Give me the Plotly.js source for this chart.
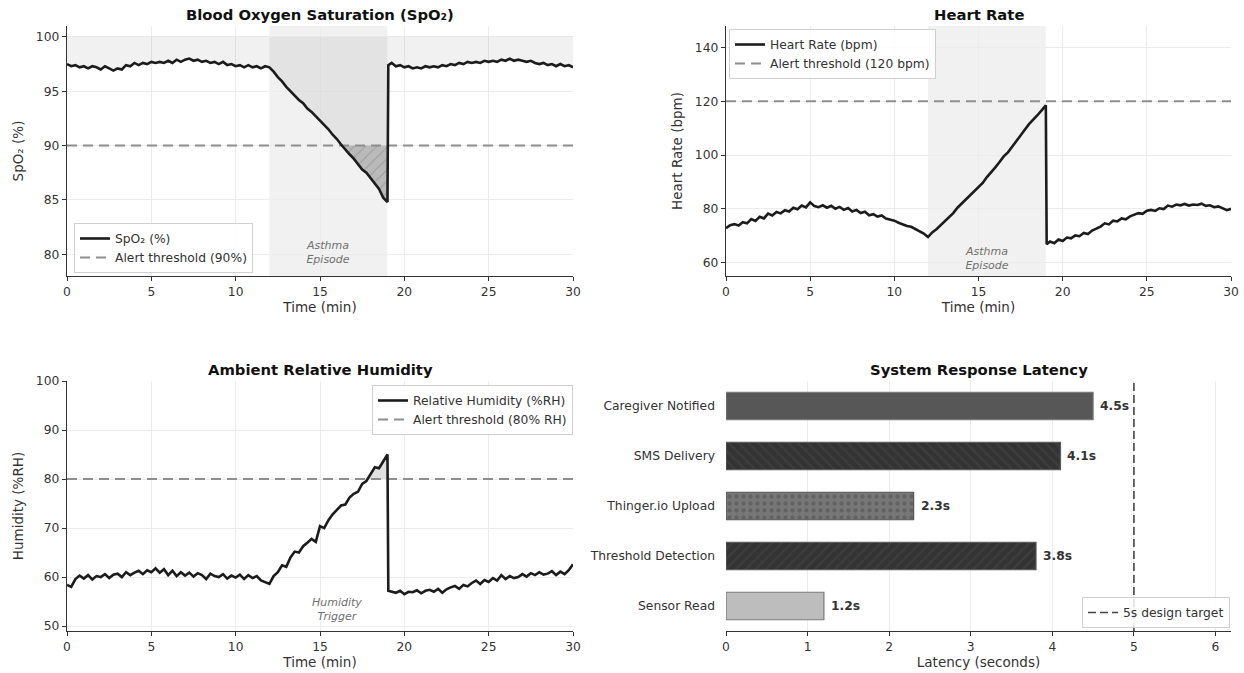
<!DOCTYPE html>
<html>
<head>
<meta charset="utf-8">
<script src="https://cdn.plot.ly/plotly-3.0.1.min.js"></script>
<style>
  html, body { margin: 0; padding: 0; background: #ffffff; }
  #chart { width: 1244px; height: 673px; }
</style>
</head>
<body>
<div id="chart"></div>
<script>
// ---------------- DATA ----------------
const TIME = [
  0,0.25,0.5,0.75,1,1.25,1.5,1.75,2,2.25,2.5,2.75,
  3,3.25,3.5,3.75,4,4.25,4.5,4.75,5,5.25,5.5,5.75,
  6,6.25,6.5,6.75,7,7.25,7.5,7.75,8,8.25,8.5,8.75,
  9,9.25,9.5,9.75,10,10.25,10.5,10.75,11,11.25,11.5,11.75,
  12,12.25,12.5,12.75,13,13.25,13.5,13.75,14,14.25,14.5,14.75,
  15,15.25,15.5,15.75,16,16.25,16.5,16.75,17,17.25,17.5,17.75,
  18,18.25,18.5,18.75,19,
  19.05,
  19.25,19.5,19.75,20,20.25,20.5,20.75,21,21.25,21.5,21.75,
  22,22.25,22.5,22.75,23,23.25,23.5,23.75,24,24.25,24.5,24.75,
  25,25.25,25.5,25.75,26,26.25,26.5,26.75,27,27.25,27.5,27.75,
  28,28.25,28.5,28.75,29,29.25,29.5,29.75,30
];

const SPO2 = [
  97.5,97.3,97.4,97.2,97.3,97.1,97.3,97.2,97.0,97.3,97.1,96.9,
  97.1,97.0,97.4,97.3,97.6,97.4,97.6,97.5,97.7,97.6,97.7,97.6,
  97.8,97.6,97.9,97.7,97.9,98.0,97.8,97.9,97.7,97.8,97.6,97.7,
  97.5,97.7,97.4,97.5,97.3,97.4,97.2,97.4,97.2,97.3,97.1,97.3,
  97.2,96.8,96.3,95.9,95.4,95.0,94.6,94.2,93.9,93.4,93.1,92.7,
  92.3,91.9,91.5,91.0,90.6,90.1,89.6,89.2,88.8,88.3,87.8,87.5,
  87.0,86.5,86.0,85.2,84.8,
  97.4,
  97.6,97.3,97.4,97.2,97.3,97.1,97.2,97.1,97.3,97.2,97.3,
  97.2,97.4,97.3,97.5,97.4,97.6,97.5,97.7,97.6,97.7,97.6,97.8,
  97.7,97.8,97.7,97.9,97.8,98.0,97.8,97.9,97.8,97.7,97.8,97.6,
  97.5,97.6,97.4,97.5,97.3,97.5,97.3,97.4,97.2
];

const HEART_RATE = [
  72.8,73.9,74.3,73.8,75.0,74.6,76.2,75.5,77.0,76.4,78.2,77.5,
  78.8,78.3,79.5,79.0,80.4,79.8,81.2,80.5,82.4,81.0,80.6,81.3,
  80.4,81.1,80.0,80.7,79.6,80.3,79.0,79.6,78.4,78.9,77.6,78.0,
  77.1,77.5,76.4,76.0,75.6,74.8,74.2,73.6,73.3,72.5,71.8,70.8,
  69.5,71.2,72.4,73.9,75.3,76.9,78.4,80.4,82.0,83.6,85.0,86.4,
  88.0,89.6,91.8,93.5,95.4,97.4,99.5,101.0,103.0,105.2,107.2,109.4,
  111.5,113.0,114.8,116.6,118.5,
  66.8,
  67.8,67.2,68.6,68.0,69.3,69.0,70.1,69.8,71.0,70.6,71.9,
  72.6,73.4,74.6,74.2,75.6,75.3,76.4,76.1,77.2,77.8,78.4,78.1,
  79.3,79.6,79.2,80.2,79.9,81.2,80.8,81.6,81.3,81.8,81.2,81.6,
  81.4,81.9,81.1,81.3,80.6,80.9,80.1,79.5,80.0
];

const HUMIDITY = [
  58.4,58.0,59.6,60.3,59.7,60.4,59.5,60.2,60.0,60.6,59.8,60.5,
  60.7,60.0,61.0,60.4,60.9,61.3,60.6,61.4,61.0,61.8,60.9,61.6,
  60.4,61.3,60.2,61.0,60.3,60.9,60.1,60.8,60.4,59.6,60.7,60.2,
  60.0,60.6,59.7,60.3,59.9,60.5,59.6,60.4,59.8,60.2,59.3,59.0,
  58.6,60.2,61.0,62.4,62.1,64.0,65.2,65.0,66.3,67.0,67.8,67.2,
  70.4,70.0,71.6,72.8,73.6,74.6,74.8,76.2,77.0,77.4,79.0,79.6,
  81.0,82.4,82.2,83.6,85.0,
  57.2,
  57.0,56.8,57.2,56.5,57.0,56.9,57.3,56.7,57.2,57.4,57.0,
  57.6,56.8,57.5,57.9,58.2,57.6,58.4,58.1,58.8,59.3,58.6,59.4,
  59.0,59.8,59.3,60.4,59.6,60.2,59.8,60.0,60.6,60.1,60.8,60.4,
  61.0,60.5,60.7,61.2,60.4,61.1,60.6,61.4,62.6
];

const TIME_SPAN = [0, 30];
const EPISODE = [12, 19];
const SPO2_CEILING = 100;
const SPO2_THRESHOLD = 90;
const HR_THRESHOLD = 120;
const RH_THRESHOLD = 80;

const STAGES = ['Sensor Read', 'Threshold Detection', 'Thinger.io Upload', 'SMS Delivery', 'Caregiver Notified'];
const LATENCY = [1.2, 3.8, 2.3, 4.1, 4.5];
const DESIGN_TARGET = 5;

// ---------------- STYLE ----------------
const FONT = 'DejaVu Sans, Arial, sans-serif';
const LINE = '#1c1c1c';
const THRESH = '#8e8e8e';
const GRID = '#ececec';
const AXC = '#333333';
const BAR_STYLE = [
  {color: '#bdbdbd', edge: '#7a7a7a', shape: '', fg: '#bdbdbd'},
  {color: '#333333', edge: '#5a5a5a', shape: '/', fg: '#474747'},
  {color: '#777777', edge: '#555555', shape: '.', fg: '#4d4d4d'},
  {color: '#333333', edge: '#5a5a5a', shape: '\\', fg: '#474747'},
  {color: '#575757', edge: '#7a7a7a', shape: '', fg: '#575757'}
];

const span = (v) => [v, v];
const traces = [];

// Panel 1: SpO2
traces.push({x: TIME_SPAN, y: span(SPO2_CEILING), xaxis: 'x', yaxis: 'y', mode: 'lines',
  line: {width: 0}, showlegend: false, hoverinfo: 'skip'});
traces.push({x: TIME, y: SPO2, xaxis: 'x', yaxis: 'y', mode: 'lines', fill: 'tonexty',
  fillcolor: 'rgba(0,0,0,0.055)', line: {width: 0}, showlegend: false, hoverinfo: 'skip'});
traces.push({x: TIME_SPAN, y: span(SPO2_THRESHOLD), xaxis: 'x', yaxis: 'y', mode: 'lines',
  line: {width: 0}, showlegend: false, hoverinfo: 'skip'});
traces.push({x: TIME, y: SPO2.map(v => Math.min(v, SPO2_THRESHOLD)), xaxis: 'x', yaxis: 'y', mode: 'lines',
  fill: 'tonexty', fillcolor: '#bababa',
  fillpattern: {shape: '/', bgcolor: '#bababa', fgcolor: '#a2a2a2', size: 8, solidity: 0.15},
  line: {width: 0}, showlegend: false, hoverinfo: 'skip'});
traces.push({x: TIME_SPAN, y: span(SPO2_THRESHOLD), xaxis: 'x', yaxis: 'y', mode: 'lines',
  name: 'Alert threshold (90%)', legend: 'legend',
  line: {color: THRESH, width: 2, dash: '10px,6px'}});
traces.push({x: TIME, y: SPO2, xaxis: 'x', yaxis: 'y', mode: 'lines',
  name: 'SpO₂ (%)', legend: 'legend',
  line: {color: LINE, width: 2.6}});

// Panel 2: Heart rate
traces.push({x: TIME_SPAN, y: span(HR_THRESHOLD), xaxis: 'x2', yaxis: 'y2', mode: 'lines',
  name: 'Alert threshold (120 bpm)', legend: 'legend2',
  line: {color: THRESH, width: 2, dash: '10px,6px'}});
traces.push({x: TIME, y: HEART_RATE, xaxis: 'x2', yaxis: 'y2', mode: 'lines',
  name: 'Heart Rate (bpm)', legend: 'legend2',
  line: {color: LINE, width: 2.6}});

// Panel 3: Humidity
traces.push({x: TIME_SPAN, y: span(RH_THRESHOLD), xaxis: 'x3', yaxis: 'y3', mode: 'lines',
  line: {width: 0}, showlegend: false, hoverinfo: 'skip'});
traces.push({x: TIME, y: HUMIDITY.map(v => Math.max(v, RH_THRESHOLD)), xaxis: 'x3', yaxis: 'y3', mode: 'lines',
  fill: 'tonexty', fillcolor: 'rgba(0,0,0,0.12)', line: {width: 0}, showlegend: false, hoverinfo: 'skip'});
traces.push({x: TIME_SPAN, y: span(RH_THRESHOLD), xaxis: 'x3', yaxis: 'y3', mode: 'lines',
  name: 'Alert threshold (80% RH)', legend: 'legend3',
  line: {color: THRESH, width: 2, dash: '10px,6px'}});
traces.push({x: TIME, y: HUMIDITY, xaxis: 'x3', yaxis: 'y3', mode: 'lines',
  name: 'Relative Humidity (%RH)', legend: 'legend3',
  line: {color: LINE, width: 2.6}});

// Panel 4: Latency bars (one trace per stage so each keeps its own fill style)
STAGES.forEach((s, i) => {
  const st = BAR_STYLE[i];
  const marker = {color: st.color, line: {color: st.edge, width: 1.2}};
  if (st.shape) marker.pattern = {shape: st.shape, fgcolor: st.fg, fillmode: 'overlay', size: 7, solidity: 0.3};
  traces.push({type: 'bar', orientation: 'h', x: [LATENCY[i]], y: [s], xaxis: 'x4', yaxis: 'y4',
    width: 0.55, showlegend: false, hoverinfo: 'skip', marker: marker});
});
traces.push({x: span(DESIGN_TARGET), y: [-0.5, 4.5], xaxis: 'x4', yaxis: 'y5', mode: 'lines',
  name: '5s design target', legend: 'legend4',
  line: {color: '#444444', width: 1.6, dash: '8px,4px'}});

// ---------------- LAYOUT ----------------
const W = 1244, H = 673;
const dx = (a, b) => [a / W, b / W];
const dy = (top, bottom) => [1 - bottom / H, 1 - top / H];

const TICK_SIZE = 12.3;
const baseAxis = {
  showline: true, linecolor: AXC, linewidth: 1.2, ticks: 'outside', ticklen: 4, tickcolor: AXC,
  tickfont: {family: FONT, size: TICK_SIZE, color: AXC}, showgrid: true, gridcolor: GRID, gridwidth: 1,
  zeroline: false, mirror: false
};
const titleFont = {family: FONT, size: 13.5, color: AXC};

const xTime = (dom, anchor) => Object.assign({}, baseAxis, {
  domain: dom, anchor: anchor, range: TIME_SPAN, dtick: 5, tick0: 0,
  title: {text: 'Time (min)', font: titleFont, standoff: 3}
});

const legendBase = {
  bgcolor: 'rgba(255,255,255,0.85)', bordercolor: '#d0d0d0', borderwidth: 1,
  font: {family: FONT, size: 12.3, color: AXC}, itemwidth: 30, traceorder: 'reversed', tracegroupgap: 0
};

const layout = {
  width: W, height: H,
  margin: {l: 0, r: 0, t: 0, b: 0},
  paper_bgcolor: '#ffffff', plot_bgcolor: '#ffffff',
  font: {family: FONT, color: AXC},
  showlegend: true,
  barmode: 'overlay',
  xaxis: xTime(dx(67, 573), 'y'),
  yaxis: Object.assign({}, baseAxis, {domain: dy(26, 276), anchor: 'x', range: [78, 101], dtick: 5,
    title: {text: 'SpO₂ (%)', font: titleFont, standoff: 9}}),
  xaxis2: xTime(dx(726, 1231), 'y2'),
  yaxis2: Object.assign({}, baseAxis, {domain: dy(26, 276), anchor: 'x2', range: [55, 148], dtick: 20,
    title: {text: 'Heart Rate (bpm)', font: titleFont, standoff: 9}}),
  xaxis3: xTime(dx(67, 573), 'y3'),
  yaxis3: Object.assign({}, baseAxis, {domain: dy(381, 631), anchor: 'x3', range: [49, 100], dtick: 10,
    title: {text: 'Humidity (%RH)', font: titleFont, standoff: 9}}),
  xaxis4: Object.assign({}, baseAxis, {domain: dx(726, 1231), anchor: 'y4', range: [0, 6.19], dtick: 1, tick0: 0,
    title: {text: 'Latency (seconds)', font: titleFont, standoff: 3}}),
  yaxis4: Object.assign({}, baseAxis, {domain: dy(381, 631), anchor: 'x4', type: 'category',
    categoryorder: 'array', categoryarray: STAGES, range: [-0.5, 4.5],
    showline: false, ticks: '', showgrid: false, ticklabelstandoff: 10}),
  yaxis5: {domain: dy(381, 631), anchor: 'x4', overlaying: 'y4', range: [-0.5, 4.5],
    visible: false, showgrid: false, zeroline: false},
  legend: Object.assign({}, legendBase, {x: 74 / W, y: 1 - 273 / H, xanchor: 'left', yanchor: 'bottom'}),
  legend2: Object.assign({}, legendBase, {x: 729 / W, y: 1 - 29 / H, xanchor: 'left', yanchor: 'top'}),
  legend3: Object.assign({}, legendBase, {x: 573 / W, y: 1 - 385 / H, xanchor: 'right', yanchor: 'top'}),
  legend4: Object.assign({}, legendBase, {x: 1230 / W, y: 1 - 628 / H, xanchor: 'right', yanchor: 'bottom'}),
  shapes: [
    {type: 'rect', xref: 'x', yref: 'y domain', x0: EPISODE[0], x1: EPISODE[1], y0: 0, y1: 1,
      fillcolor: 'rgba(0,0,0,0.055)', line: {width: 0}, layer: 'below'},
    {type: 'rect', xref: 'x2', yref: 'y2 domain', x0: EPISODE[0], x1: EPISODE[1], y0: 0, y1: 1,
      fillcolor: 'rgba(0,0,0,0.055)', line: {width: 0}, layer: 'below'}
  ],
  annotations: []
};

const titles = [
  {text: 'Blood Oxygen Saturation (SpO₂)', x: (67 + 573) / 2, y: 14},
  {text: 'Heart Rate', x: (726 + 1231) / 2, y: 14},
  {text: 'Ambient Relative Humidity', x: (67 + 573) / 2, y: 369},
  {text: 'System Response Latency', x: (726 + 1231) / 2, y: 369}
];
titles.forEach(t => layout.annotations.push({
  text: '<b>' + t.text + '</b>', xref: 'paper', yref: 'paper', x: t.x / W, y: 1 - t.y / H,
  xanchor: 'center', yanchor: 'middle', showarrow: false,
  font: {family: FONT, size: 14.8, color: '#111111'}
}));

const noteFont = {family: FONT, size: 11, color: '#707070', style: 'italic'};
layout.annotations.push({text: 'Asthma<br>Episode', xref: 'x', yref: 'y', x: (EPISODE[0] + EPISODE[1]) / 2, y: 80.2,
  showarrow: false, font: noteFont, align: 'center'});
layout.annotations.push({text: 'Asthma<br>Episode', xref: 'x2', yref: 'y2', x: (EPISODE[0] + EPISODE[1]) / 2, y: 61.5,
  showarrow: false, font: noteFont, align: 'center'});
layout.annotations.push({text: 'Humidity<br>Trigger', xref: 'x3', yref: 'y3', x: 16, y: 53.4,
  showarrow: false, font: noteFont, align: 'center'});

STAGES.forEach((s, i) => layout.annotations.push({
  text: '<b>' + LATENCY[i].toFixed(1) + 's</b>', xref: 'x4', yref: 'y4', x: LATENCY[i], y: s,
  xanchor: 'left', yanchor: 'middle', xshift: 5, showarrow: false,
  font: {family: FONT, size: 12.3, color: '#333333'}
}));

Plotly.newPlot('chart', traces, layout, {staticPlot: true, displayModeBar: false});
</script>
</body>
</html>
